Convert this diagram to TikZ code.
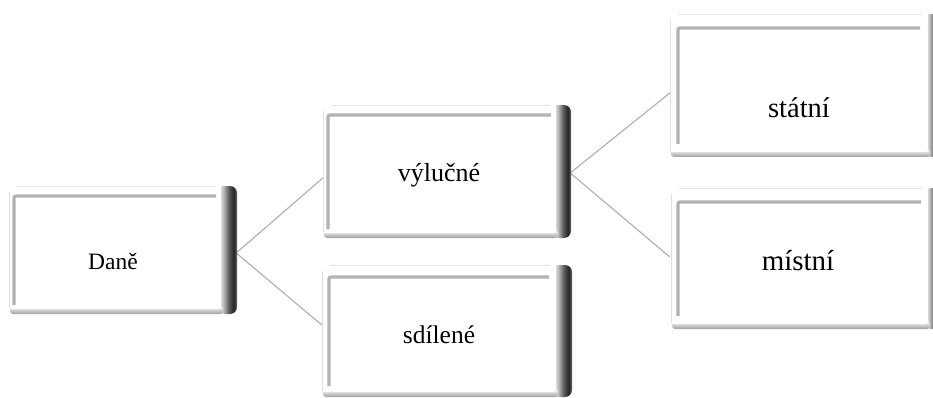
\documentclass[tikz,border=0pt]{standalone}
\usepackage{fontspec}
\setmainfont{Liberation Serif}
\pgfdeclarehorizontalshading{bevelstrip}{100bp}{color(0bp)=(white); color(25bp)=(white); color(40bp)=(gray!50); color(55bp)=(black!65); color(67bp)=(black!85); color(75bp)=(black!60); color(100bp)=(black!60)}
% #1 L, #2 T, #3 face right, #4 strip right, #5 B, #6 inset x, #7 inset y
\newcommand\bevelbox[7]{%
  \shade[shading=bevelstrip, rounded corners=7pt] ({#3-4},{#2}) rectangle ({#4},{#5});
  \shade[top color=white, bottom color=gray!75, rounded corners=3pt] ({#1+1},{#5-8}) rectangle ({#3+2},{#5});
  \fill[white, rounded corners=2pt] ({#1},{#2}) rectangle ({#3},{#5-5});
  \draw[gray!20, line width=1pt] ({#1+8},{#2+0.5}) -- ({#3-6},{#2+0.5});
  \draw[gray!25, line width=1pt] ({#1+0.5},{#2+6}) -- ({#1+0.5},{#5-6});
  \draw[gray!60, line width=3.2pt, rounded corners=2pt] ({#1+#6},{#5-#7+1}) -- ({#1+#6},{#2+#7}) -- ({#3-#6},{#2+#7});
}
\tikzset{
  link/.style={draw=gray!60, line width=1.2pt},
  label/.style={anchor=base, inner sep=0pt, text=black}
}
\begin{document}
\begin{tikzpicture}[x=1pt, y=-1pt]
\useasboundingbox (0,0) rectangle (933,398);
\clip (0,0) rectangle (933,398);
% invisible frame nodes for the boxes
\node[inner sep=0pt, minimum width=227pt, minimum height=128pt] (dane) at (122.5,250) {};
\node[inner sep=0pt, minimum width=247pt, minimum height=133pt] (vylucne) at (446.5,171.5) {};
\node[inner sep=0pt, minimum width=249pt, minimum height=132pt] (sdilene) at (446.5,331) {};
\node[inner sep=0pt, minimum width=263pt, minimum height=143pt] (statni) at (801.5,85.5) {};
\node[inner sep=0pt, minimum width=263pt, minimum height=141pt] (mistni) at (801.5,258.5) {};
% connectors
\draw[link] ([yshift=-3pt]dane.east) -- ([yshift=-6.5pt]vylucne.west);
\draw[link] ([yshift=-3pt]dane.east) -- ([yshift=6pt]sdilene.west);
\draw[link] ([yshift=-1.5pt]vylucne.east) -- ([yshift=-7.5pt]statni.west);
\draw[link] ([yshift=-1.5pt]vylucne.east) -- ([yshift=1.5pt]mistni.west);
% boxes
\bevelbox{9}{186}{221}{237}{314}{5}{10}
\bevelbox{323}{105}{556}{571}{238}{5}{10}
\bevelbox{322}{265}{556}{572}{397}{7}{12}
\bevelbox{670}{14}{928}{942}{157}{8}{14}
\bevelbox{671}{188}{928}{942}{329}{7}{14}
% labels
\node[label, font=\fontsize{23.5}{28}\selectfont] (daneT) at (113,269) {Daně};
\node[label, font=\fontsize{26}{30}\selectfont] (vylucneT) at (439,182) {výlučné};
\node[label, font=\fontsize{25.5}{30}\selectfont] (sdileneT) at (439,343) {sdílené};
\node[label, font=\fontsize{28.5}{33}\selectfont] (statniT) at (799,118) {státní};
\node[label, font=\fontsize{29}{34}\selectfont] (mistniT) at (798,270) {místní};
\end{tikzpicture}
\end{document}
